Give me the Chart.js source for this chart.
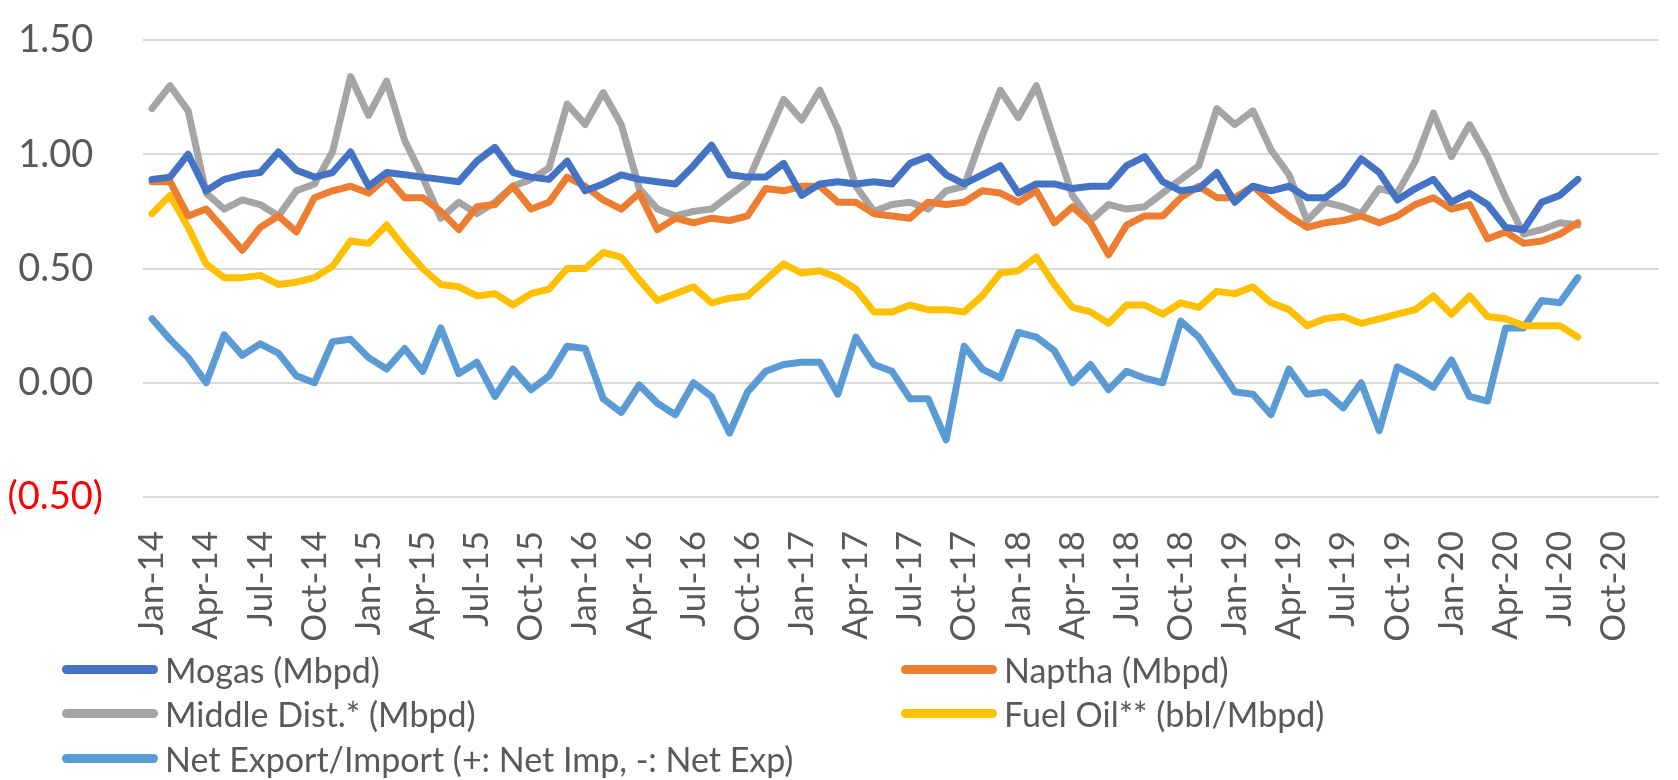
<!DOCTYPE html>
<html lang="en">
<head>
  <meta charset="UTF-8" />
  <title>Product balances</title>
  <script src="https://cdn.jsdelivr.net/npm/chart.js"></script>
  <style>
    body { margin: 0; background: #fff; }
    .wrap { position: relative; width: 1678px; height: 780px; }
    #legend { position: absolute; left: 0; top: 0; width: 1678px; height: 780px; pointer-events: none;
      font-family: Lato, "Open Sans", sans-serif; font-size: 34px; color: #595959; }
    .item { position: absolute; display: flex; align-items: center; height: 44px; white-space: nowrap; }
    .swatch { width: 96px; height: 9px; border-radius: 5px; margin-right: 7px; }
  </style>
</head>
<body>
  <div class="wrap">
    <canvas id="lineChart" width="1678" height="780"></canvas>
    <div id="legend"></div>
  </div>

  <script>
    // months Jan-14 .. Dec-20 (axis), data runs Jan-14 .. Aug-20
    const months = ['Jan','Feb','Mar','Apr','May','Jun','Jul','Aug','Sep','Oct','Nov','Dec'];
    const labels = [];
    for (let y = 14; y <= 20; y++) {
      months.forEach(m => labels.push(m + '-' + y));
    }

    const mogas = [0.89,0.90,1.00,0.84,0.89,0.91,0.92,1.01,0.93,0.90,0.92,1.01,
      0.86,0.92,0.91,0.90,0.89,0.88,0.97,1.03,0.92,0.90,0.89,0.97,
      0.84,0.87,0.91,0.89,0.88,0.87,0.95,1.04,0.91,0.90,0.90,0.96,
      0.82,0.87,0.88,0.87,0.88,0.87,0.96,0.99,0.91,0.87,0.91,0.95,
      0.83,0.87,0.87,0.85,0.86,0.86,0.95,0.99,0.88,0.84,0.85,0.92,
      0.79,0.86,0.84,0.86,0.81,0.81,0.87,0.98,0.92,0.80,0.85,0.89,
      0.79,0.83,0.78,0.68,0.67,0.79,0.82,0.89];
    const naptha = [0.88,0.88,0.73,0.76,0.67,0.58,0.68,0.73,0.66,0.81,0.84,0.86,
      0.83,0.90,0.81,0.81,0.75,0.67,0.77,0.78,0.86,0.76,0.79,0.90,
      0.86,0.80,0.76,0.83,0.67,0.72,0.70,0.72,0.71,0.73,0.85,0.84,
      0.86,0.86,0.79,0.79,0.74,0.73,0.72,0.79,0.78,0.79,0.84,0.83,
      0.79,0.84,0.70,0.77,0.70,0.56,0.69,0.73,0.73,0.81,0.86,0.81,
      0.81,0.86,0.79,0.73,0.68,0.70,0.71,0.73,0.70,0.73,0.78,0.81,
      0.76,0.78,0.63,0.66,0.61,0.62,0.65,0.70];
    const middleDist = [1.20,1.30,1.19,0.83,0.76,0.80,0.78,0.73,0.84,0.87,1.01,1.34,
      1.17,1.32,1.06,0.90,0.72,0.79,0.74,0.79,0.86,0.89,0.94,1.22,
      1.13,1.27,1.13,0.85,0.76,0.73,0.75,0.76,0.82,0.88,1.06,1.24,
      1.15,1.28,1.11,0.86,0.75,0.78,0.79,0.76,0.84,0.86,1.08,1.28,
      1.16,1.30,1.06,0.82,0.71,0.78,0.76,0.77,0.83,0.89,0.95,1.20,
      1.13,1.19,1.02,0.91,0.71,0.79,0.77,0.74,0.85,0.83,0.97,1.18,
      0.99,1.13,0.99,0.81,0.65,0.67,0.70,0.69];
    const fuelOil = [0.74,0.82,0.68,0.52,0.46,0.46,0.47,0.43,0.44,0.46,0.51,0.62,
      0.61,0.69,0.59,0.50,0.43,0.42,0.38,0.39,0.34,0.39,0.41,0.50,
      0.50,0.57,0.55,0.45,0.36,0.39,0.42,0.35,0.37,0.38,0.45,0.52,
      0.48,0.49,0.46,0.41,0.31,0.31,0.34,0.32,0.32,0.31,0.38,0.48,
      0.49,0.55,0.43,0.33,0.31,0.26,0.34,0.34,0.30,0.35,0.33,0.40,
      0.39,0.42,0.35,0.32,0.25,0.28,0.29,0.26,0.28,0.30,0.32,0.38,
      0.30,0.38,0.29,0.28,0.25,0.25,0.25,0.20];
    const netTrade = [0.28,0.19,0.11,0.00,0.21,0.12,0.17,0.13,0.03,0.00,0.18,0.19,
      0.11,0.06,0.15,0.05,0.24,0.04,0.09,-0.06,0.06,-0.03,0.03,0.16,
      0.15,-0.07,-0.13,-0.01,-0.09,-0.14,0.00,-0.06,-0.22,-0.04,0.05,0.08,
      0.09,0.09,-0.05,0.20,0.08,0.05,-0.07,-0.07,-0.25,0.16,0.06,0.02,
      0.22,0.20,0.14,0.00,0.08,-0.03,0.05,0.02,0.00,0.27,0.20,0.08,
      -0.04,-0.05,-0.14,0.06,-0.05,-0.04,-0.11,0.00,-0.21,0.07,0.03,-0.02,
      0.10,-0.06,-0.08,0.24,0.24,0.36,0.35,0.46];

    const seriesNames = ['Mogas (Mbpd)', 'Naptha (Mbpd)', 'Middle Dist.* (Mbpd)',
      'Fuel Oil** (bbl/Mbpd)', 'Net Export/Import (+: Net Imp, -: Net Exp)'];
    const seriesColors = ['#4472C4', '#ED7D31', '#A5A5A5', '#FFC000', '#5B9BD5'];
    const seriesData = [mogas, naptha, middleDist, fuelOil, netTrade];

    const font = 'Lato, "Open Sans", sans-serif';
    const ctx = document.getElementById('lineChart').getContext('2d');

    // stop the scales from reserving extra room for their labels
    function noScalePadding(s) {
      s.paddingTop = 0; s.paddingBottom = 0; s.paddingLeft = 0; s.paddingRight = 0;
    }

    const lineChart = new Chart(ctx, {
      type: 'line',
      data: {
        labels: labels,
        datasets: seriesData.map((d, i) => ({
          label: seriesNames[i],
          data: d,
          borderColor: seriesColors[i],
          backgroundColor: seriesColors[i],
          borderWidth: 7,
          borderJoinStyle: 'round',
          borderCapStyle: 'round',
          pointRadius: 0,
          tension: 0,
          fill: false
        }))
      },
      options: {
        responsive: false,
        animation: false,
        layout: { padding: { top: 40, right: 19, bottom: 118, left: 0 } },
        plugins: { legend: { display: false }, tooltip: { enabled: false } },
        scales: {
          x: {
            offset: true,
            grid: { display: false },
            border: { display: false },
            afterFit: s => { s.height = 165; noScalePadding(s); },
            ticks: {
              autoSkip: false,
              minRotation: 90,
              maxRotation: 90,
              padding: 26,
              color: '#595959',
              font: { family: font, size: 35 },
              callback: function (v, i) { return i % 3 === 0 ? this.getLabelForValue(v) : ''; }
            }
          },
          y: {
            min: -0.5,
            max: 1.5,
            border: { display: false },
            grid: { color: '#D9D9D9', lineWidth: 2, drawTicks: false },
            afterFit: s => { s.width = 143; noScalePadding(s); },
            ticks: {
              stepSize: 0.5,
              padding: 40,
              font: { family: font, size: 38 },
              color: c => c.tick.value < 0 ? '#FF0000' : '#595959',
              // accounting style: positives keep room for the closing bracket
              callback: v => v < 0 ? '(' + Math.abs(v).toFixed(2) + ')' : v.toFixed(2) + ' '
            }
          }
        }
      }
    });

    // legend laid out in two columns like the original
    const legendPos = [[62, 669], [901, 669], [62, 713], [901, 713], [62, 758]];
    const legend = document.getElementById('legend');
    lineChart.data.datasets.forEach((ds, i) => {
      const item = document.createElement('div');
      item.className = 'item';
      item.style.left = legendPos[i][0] + 'px';
      item.style.top = (legendPos[i][1] - 22) + 'px';
      item.innerHTML = '<span class="swatch" style="background:' + ds.borderColor + '"></span>' + ds.label;
      legend.appendChild(item);
    });
  </script>
</body>
</html>
